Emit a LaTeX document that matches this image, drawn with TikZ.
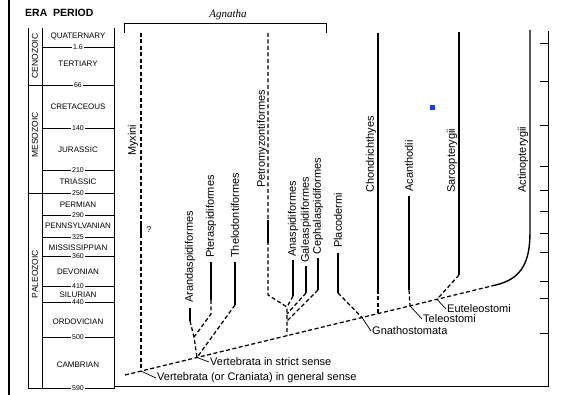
\documentclass[tikz,border=0pt]{standalone}
\usepackage{fontspec}
\setmainfont{Liberation Sans}
\newfontfamily\agnathafont{Liberation Serif}
\usepackage{tikz}
\definecolor{markblue}{RGB}{20,60,250}

\begin{document}
\begin{tikzpicture}[x=1pt,y=-1pt,
	lineage/.style={line width=1.4pt},
	branch/.style={line width=1.25pt, dash pattern=on 4pt off 2.5pt},
	leader/.style={line width=0.7pt},
	scaleline/.style={line width=0.7pt},
	fossil/.style={line width=2.8pt},
	taxon/.style={rotate=90, anchor=west, inner sep=1pt, font=\fontsize{11}{13}\selectfont},
	clade/.style={anchor=west, inner sep=1pt, font=\fontsize{11}{13}\selectfont},
	period/.style={inner sep=0pt, font=\fontsize{8}{9}\selectfont},
	era/.style={rotate=90, inner sep=0pt, font=\fontsize{8.5}{9}\selectfont},
	age/.style={fill=white, inner sep=1pt, font=\fontsize{7}{8}\selectfont}]

	\useasboundingbox (0,0) rectangle (566,395);
	\draw[line width=2.6pt] (9,0) -- (9,395);

	% geologic time scale
	\node[anchor=west, inner sep=0pt, font=\bfseries\fontsize{10.5}{12}\selectfont] (erahead) at (25,13) {ERA};
	\node[anchor=west, inner sep=0pt, font=\bfseries\fontsize{10.5}{12}\selectfont] (perhead) at (53,13) {PERIOD};

	\draw[scaleline] (28,28) -- (28,388) -- (114,388) -- (114,28);
	\draw[scaleline] (42,28) -- (42,388);
	\draw[scaleline] (28,85) -- (42,85);
	\draw[scaleline] (28,193) -- (42,193);
	\foreach \y/\a [count=\i] in {47/1.6,85/66,128/140,170/210,193/250,215/290,237/325,256/360,286/410,302/440,337/500,388/590}
	{
		\draw[scaleline] (42,\y) -- (114,\y);
		\node[age] (age\i) at (78,\y) {\a};
	}
	\foreach \y/\p [count=\i] in {36/QUATERNARY,64/TERTIARY,107/CRETACEOUS,150/JURASSIC,182/TRIASSIC,205/PERMIAN,226/PENNSYLVANIAN,248/MISSISSIPPIAN,272/DEVONIAN,295/SILURIAN,322/ORDOVICIAN,365/CAMBRIAN}
		\node[period] (per\i) at (78,\y) {\p};

	\node[era] (cenozoic) at (35,56) {CENOZOIC};
	\node[era] (mesozoic) at (35,135) {MESOZOIC};
	\node[era] (paleozoic) at (35,274) {PALEOZOIC};

	% frame of the tree
	\draw[scaleline] (114,386) -- (548,386) -- (548,31);
	\foreach \y in {43,81,125,166,190,211,233,252,281,298,333}
		\draw[scaleline] (540,\y) -- (548,\y);

	\coordinate (agnL) at (124,33);
	\coordinate (agnR) at (326,33);
	\draw[scaleline] (agnL) -- ++(0,-10) -| (agnR);
	\node[font=\agnathafont\itshape\fontsize{11}{13}\selectfont] (agnatha) at (228,15) {Agnatha};

	% backbone
	\coordinate (root) at (125,375);
	\coordinate (vg) at (141,371.1);
	\coordinate (vs) at (197,357.5);
	\coordinate (ag) at (287,335.7);
	\coordinate (gn) at (362,317.5);
	\coordinate (chj) at (378,313.6);
	\coordinate (te) at (410,305.9);
	\coordinate (eu) at (437,299.3);
	\coordinate (ac) at (495,285.2);
	\draw[branch] (root) -- (vg) -- (vs) -- (ag) -- (gn) -- (chj) -- (te) -- (eu) -- (ac);

	% jawless lines
	\node[taxon] (myxini) at (133,157) {Myxini};
	\coordinate (myxT) at (141,33);
	\draw[branch] (myxT) -- (vg);
	\coordinate (myxB) at (141,223);
	\draw[fossil] (myxB) -- ++(0,11);
	\node[inner sep=0pt, font=\fontsize{8.5}{9}\selectfont] (myxq) at (149,230) {?};

	\node[taxon] (aran) at (190,304) {Arandaspidiformes};
	\coordinate (aranS) at (190,308);
	\coordinate (aranE) at (190,321);
	\coordinate (p1) at (194,337);
	\draw[lineage] (aranS) -- (aranE);
	\draw[branch] (aranE) -- (p1) -- (vs);

	\node[taxon] (pter) at (211,259) {Pteraspidiformes};
	\coordinate (pterS) at (211,262);
	\coordinate (pterE) at (211,300);
	\coordinate (pterK) at (211,314);
	\draw[lineage] (pterS) -- (pterE);
	\draw[branch] (pterE) -- (pterK) -- (p1);

	\node[taxon] (thel) at (235,259) {Thelodontiformes};
	\coordinate (thelS) at (235,262);
	\coordinate (thelE) at (235,305);
	\draw[lineage] (thelS) -- (thelE);
	\draw[branch] (thelE) -- (vs);

	\node[taxon] (petr) at (262,189) {Petromyzontiformes};
	\coordinate (petrT) at (268,33);
	\coordinate (petrK) at (268,295);
	\coordinate (a1) at (287,307);
	\coordinate (a2) at (287,314);
	\coordinate (a3) at (287,321);
	\draw[branch] (petrT) -- (petrK) -- (a1) -- (ag);
	\coordinate (petrB) at (268,220);
	\draw[fossil] (petrB) -- ++(0,23);

	\node[taxon] (anas) at (293,258) {Anaspidiformes};
	\coordinate (anasS) at (293,260);
	\coordinate (anasE) at (293,296);
	\draw[lineage] (anasS) -- (anasE);
	\draw[branch] (anasE) -- (a1);

	\node[taxon] (gale) at (306,264) {Galeaspidiformes};
	\coordinate (galeS) at (306,266);
	\coordinate (galeE) at (306,293);
	\draw[lineage] (galeS) -- (galeE);
	\draw[branch] (galeE) -- (a2);

	\node[taxon] (ceph) at (318,256) {Cephalaspidiformes};
	\coordinate (cephS) at (318,258);
	\coordinate (cephE) at (318,290);
	\draw[lineage] (cephS) -- (cephE);
	\draw[branch] (cephE) -- (a3);

	% jawed lines
	\node[taxon] (plac) at (338,249) {Placodermi};
	\coordinate (placS) at (338,253);
	\coordinate (placE) at (338,293);
	\draw[lineage] (placS) -- (placE);
	\draw[branch] (placE) -- (gn);

	\node[taxon] (chon) at (371,194) {Chondrichthyes};
	\coordinate (chonT) at (378,33);
	\coordinate (chonE) at (378,290);
	\draw[lineage] (chonT) -- (chonE);
	\draw[branch] (chonE) -- (chj);

	\node[taxon] (acan) at (409,193) {Acanthodii};
	\coordinate (acanS) at (409,196);
	\coordinate (acanE) at (409,290);
	\draw[lineage] (acanS) -- (acanE);
	\draw[branch] (acanE) -- (te);

	\node[taxon] (sarc) at (452,194) {Sarcopterygii};
	\coordinate (sarcT) at (459,32);
	\coordinate (sarcE) at (459,275);
	\draw[lineage] (sarcT) -- (sarcE);
	\draw[branch] (sarcE) -- (eu);

	\node[taxon] (acti) at (523,194) {Actinopterygii};
	\coordinate (actiT) at (530,30);
	\coordinate (actiK) at (530,232);
	\draw[lineage] (actiT) -- (actiK) .. controls (530,262) and (522,279) .. (ac);

	% clade names
	\node[clade] (vgtext) at (156,378) {Vertebrata (or Craniata) in general sense};
	\draw[leader] (vg) -- (vgtext.west);
	\node[clade] (vstext) at (209,362) {Vertebrata in strict sense};
	\draw[leader] (vs) -- (vstext.west);
	\node[clade] (gntext) at (371,331) {Gnathostomata};
	\draw[leader] (gn) -- (gntext.west);
	\node[clade] (tetext) at (422,319) {Teleostomi};
	\draw[leader] (te) -- (tetext.west);
	\node[clade] (eutext) at (446,309) {Euteleostomi};
	\draw[leader] (eu) -- (eutext.west);

	\fill[markblue] (430,105) rectangle (435,110);
\end{tikzpicture}
\end{document}
